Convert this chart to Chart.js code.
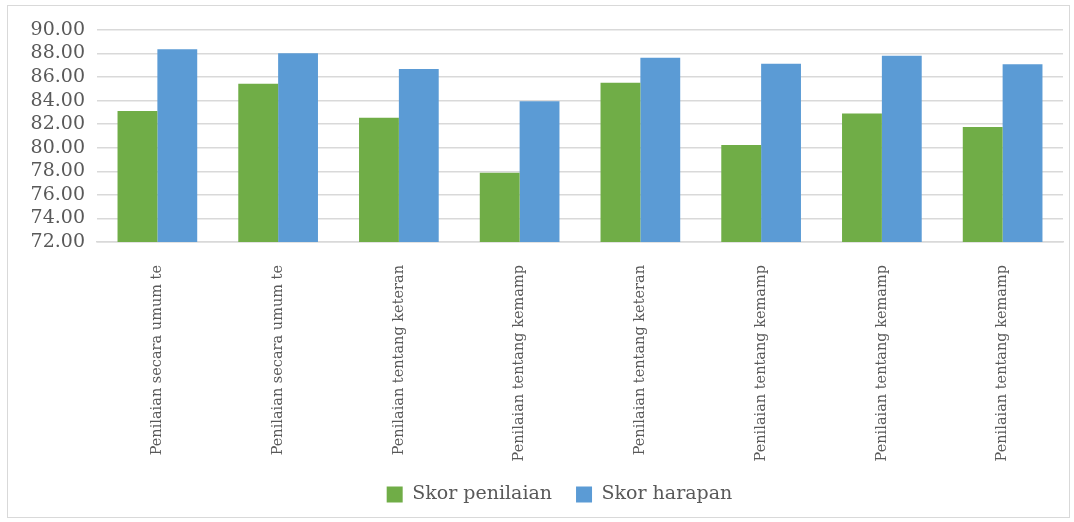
<!DOCTYPE html>
<html>
<head>
<meta charset="utf-8">
<script src="https://cdn.jsdelivr.net/npm/chart.js@4"></script>
<style>
  body { margin: 0; background: #fff; }
  .wrap { position: relative; width: 1074px; height: 522px; }
  .frame {
    position: absolute; left: 7px; top: 5px; width: 1061px; height: 511px;
    border: 1px solid #d9d9d9; pointer-events: none;
  }
</style>
</head>
<body>
<div class="wrap">
  <canvas id="chart" width="1074" height="522"></canvas>
  <div class="frame"></div>
</div>
<script>
const categories = [
  "Penilaian secara umum te",
  "Penilaian secara umum te",
  "Penilaian tentang keteran",
  "Penilaian tentang kemamp",
  "Penilaian tentang keteran",
  "Penilaian tentang kemamp",
  "Penilaian tentang kemamp",
  "Penilaian tentang kemamp",
];
const skorPenilaian = [83.12, 85.44, 82.56, 77.89, 85.53, 80.24, 82.90, 81.77];
const skorHarapan = [88.36, 88.02, 86.69, 83.95, 87.65, 87.14, 87.82, 87.09];
const yTicks = { min: 72, max: 90, step: 2 };

const serif = "'DejaVu Serif', serif";
const gray = "#595959";

// nudge the legend a little to the right of the canvas centre
const legendShift = {
  id: "legendShift",
  afterLayout(chart) {
    const lg = chart.legend;
    if (!lg) return;
    lg.left += 28;
    lg.right += 28;
  },
};

new Chart(document.getElementById("chart"), {
  type: "bar",
  data: {
    labels: categories,
    datasets: [
      {
        label: "Skor penilaian",
        data: skorPenilaian,
        backgroundColor: "#70ad47",
        barPercentage: 1.0,
        categoryPercentage: 0.66,
      },
      {
        label: "Skor harapan",
        data: skorHarapan,
        backgroundColor: "#5b9bd5",
        barPercentage: 1.0,
        categoryPercentage: 0.66,
      },
    ],
  },
  options: {
    responsive: false,
    animation: false,
    layout: { padding: { top: 30, right: 11, bottom: 8, left: 0 } },
    plugins: {
      tooltip: { enabled: false },
      legend: {
        position: "bottom",
        labels: {
          color: gray,
          font: { family: serif, size: 19 },
          boxWidth: 16,
          boxHeight: 16,
          padding: 24,
        },
      },
    },
    scales: {
      x: {
        grid: { display: false },
        border: { color: "#d9d9d9", width: 1.5 },
        ticks: {
          color: gray,
          font: { family: serif, size: 14.5 },
          minRotation: 90,
          maxRotation: 90,
          autoSkip: false,
          padding: 15,
        },
        afterFit: (scale) => { scale.height = 219; },
      },
      y: {
        min: yTicks.min,
        max: yTicks.max,
        grid: { color: "#d9d9d9", lineWidth: 1.5, drawTicks: false },
        border: { display: false },
        ticks: {
          stepSize: yTicks.step,
          autoSkip: false,
          color: gray,
          font: { family: serif, size: 19 },
          padding: 12,
          callback: (v) => v.toFixed(2),
        },
        afterFit: (scale) => { scale.width = 97; },
      },
    },
  },
  plugins: [legendShift],
});
</script>
</body>
</html>
